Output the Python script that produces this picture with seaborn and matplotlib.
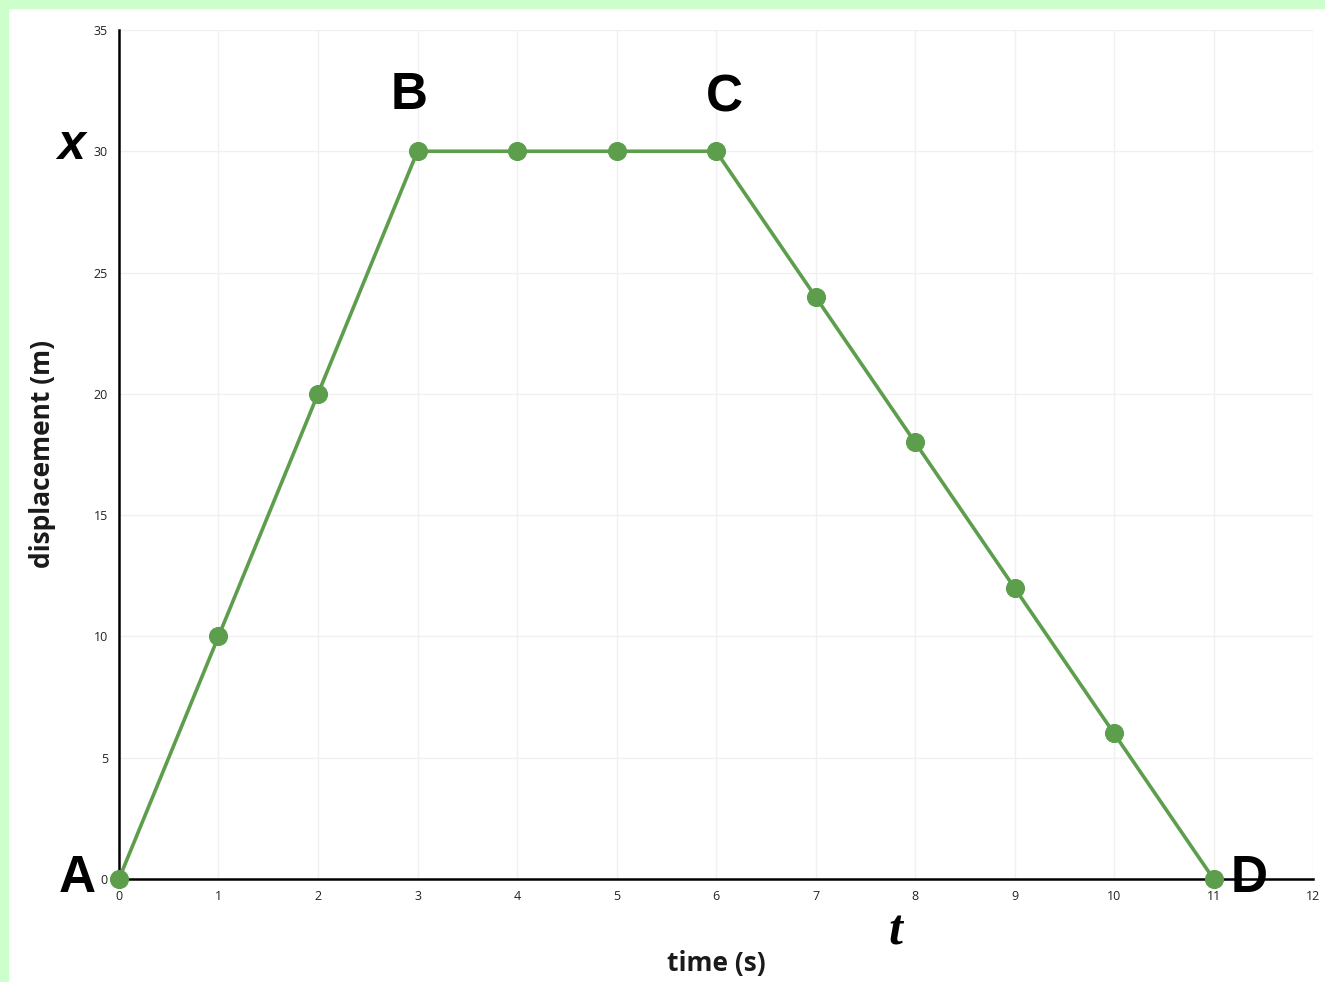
import matplotlib
matplotlib.use("Agg")
import matplotlib.pyplot as plt
import seaborn as sns
import pandas as pd
from matplotlib.patches import Rectangle

sns.set_theme(style="whitegrid")
plt.rcParams["font.family"] = ["Open Sans", "DejaVu Sans"]

# data
time_s = [0, 1, 2, 3, 4, 5, 6, 7, 8, 9, 10, 11]
displacement_m = [0, 10, 20, 30, 30, 30, 30, 24, 18, 12, 6, 0]
x_ticks = list(range(0, 13))
y_ticks = [0, 5, 10, 15, 20, 25, 30, 35]
point_labels = ["A", "B", "C", "D"]
point_times = [0, 3, 6, 11]

LINE_GREEN = "#5c9e4c"
BORDER_GREEN = "#ccffcc"

df = pd.DataFrame({"time": time_s, "disp": displacement_m})

fig = plt.figure(figsize=(13.25, 9.82), dpi=100)
fig.patch.set_facecolor("white")
ax = fig.add_axes([0.0898, 0.1049, 0.9012, 0.8646])

sns.lineplot(data=df, x="time", y="disp", ax=ax, color=LINE_GREEN,
             linewidth=2.6, marker="o", markersize=13,
             markeredgecolor=LINE_GREEN, zorder=3, clip_on=False)

ax.set_xlim(0, 12)
ax.set_ylim(0, 35)
ax.set_xticks(x_ticks)
ax.set_yticks(y_ticks)
ax.tick_params(axis="both", labelsize=9, direction="inout", length=8,
               width=1, color="#333333", labelcolor="#222222", pad=4)
ax.grid(True, color="#f0f0f0", linewidth=1.0)
for side in ["top", "right"]:
    ax.spines[side].set_visible(False)
for side in ["left", "bottom"]:
    ax.spines[side].set_visible(True)
    ax.spines[side].set_color("black")
    ax.spines[side].set_linewidth(1.8)
ax.set_facecolor("white")

ax.set_xlabel("time (s)", fontsize=19, fontweight="bold", labelpad=34,
              color="#1a1a1a")
ax.set_ylabel("displacement (m)", fontsize=19, fontweight="bold", labelpad=27,
              color="#1a1a1a")

# point letters
offsets = {"A": (-0.42, 0.0), "B": (-0.08, 2.3), "C": (0.08, 2.2), "D": (0.36, 0.0)}
for lab, t in zip(point_labels, point_times):
    dx, dy = offsets[lab]
    ax.text(t + dx, displacement_m[t] + dy, lab, fontsize=37, fontweight="bold",
            family=["Liberation Sans", "DejaVu Sans"], ha="center", va="center",
            color="black", clip_on=False, zorder=5)

# axis symbols
ax.text(-0.48, 30.2, "x", fontsize=36, fontweight="bold", style="italic",
        family=["Liberation Sans", "DejaVu Sans"], ha="center", va="center",
        color="black", clip_on=False)
ax.text(7.8, -2.2, "t", fontsize=36, fontweight="bold", style="italic",
        family=["Liberation Serif", "DejaVu Serif"], ha="center", va="center",
        color="black", clip_on=False)

# light green frame at top and left edges
fig.patches.append(Rectangle((0, 1 - 8 / 982), 1, 8 / 982, transform=fig.transFigure,
                             color=BORDER_GREEN, zorder=0))
fig.patches.append(Rectangle((0, 0), 8 / 1325, 1, transform=fig.transFigure,
                             color=BORDER_GREEN, zorder=0))

fig.savefig("out.png", dpi=100)
